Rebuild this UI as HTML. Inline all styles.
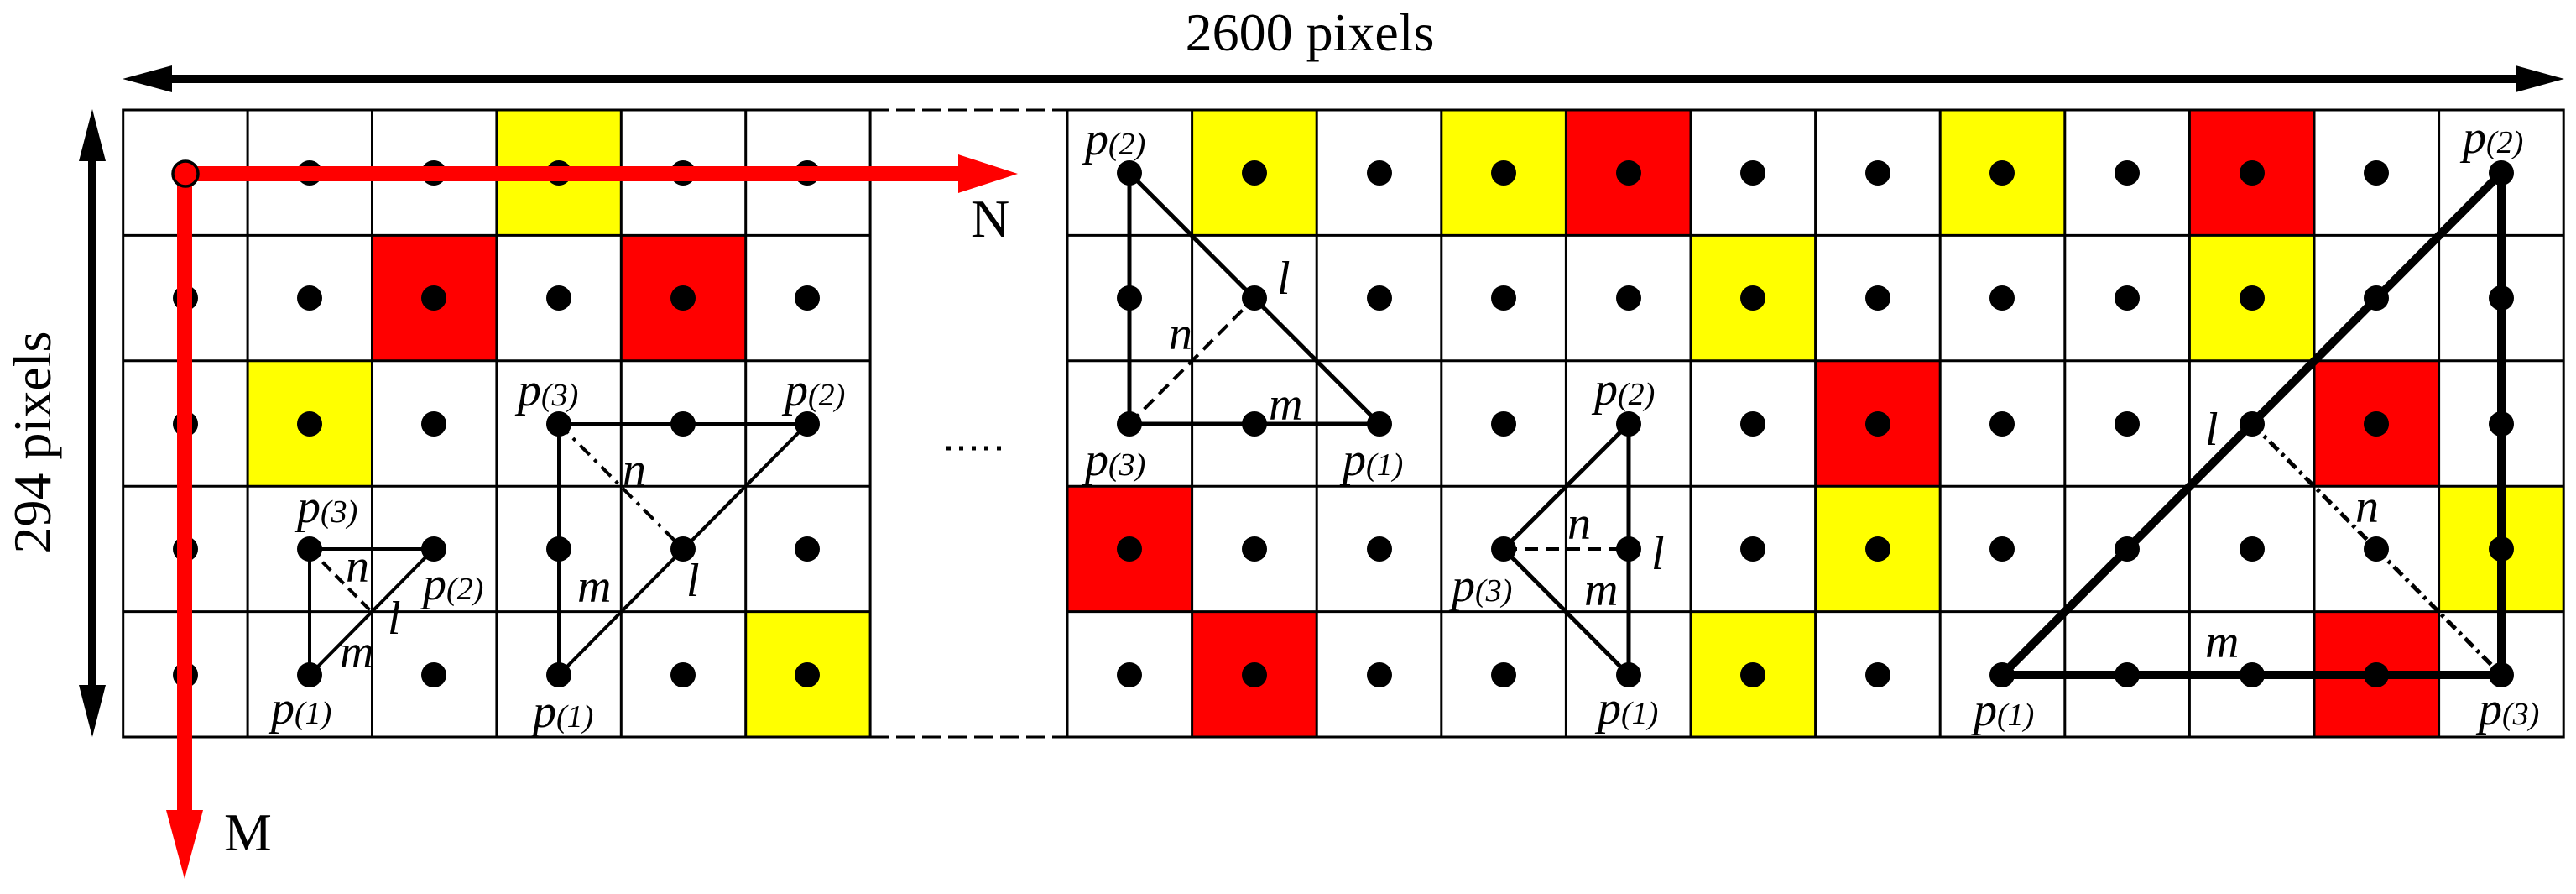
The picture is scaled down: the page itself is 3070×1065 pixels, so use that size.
<!DOCTYPE html>
<html><head><meta charset="utf-8"><style>html,body{margin:0;padding:0;background:#fff}svg{display:block}svg,svg text{font-family:"Liberation Serif","DejaVu Serif","Times New Roman",serif}</style></head>
<body>
<svg width="3070" height="1065" viewBox="0 0 3070 1065" xmlns="http://www.w3.org/2000/svg" style="font-family:'Liberation Serif','DejaVu Serif',serif">
<g>
<rect x="591.9" y="131" width="148.4" height="149.4" fill="#ffff00"/>
<rect x="443.5" y="280.4" width="148.4" height="149.4" fill="#ff0000"/>
<rect x="740.3" y="280.4" width="148.4" height="149.4" fill="#ff0000"/>
<rect x="295.1" y="429.8" width="148.4" height="149.4" fill="#ffff00"/>
<rect x="888.7" y="728.6" width="148.4" height="149.4" fill="#ffff00"/>
</g>
<g>
<rect x="1420.6" y="131" width="148.6" height="149.4" fill="#ffff00"/>
<rect x="1717.8" y="131" width="148.6" height="149.4" fill="#ffff00"/>
<rect x="1866.4" y="131" width="148.6" height="149.4" fill="#ff0000"/>
<rect x="2312.2" y="131" width="148.6" height="149.4" fill="#ffff00"/>
<rect x="2609.4" y="131" width="148.6" height="149.4" fill="#ff0000"/>
<rect x="2015" y="280.4" width="148.6" height="149.4" fill="#ffff00"/>
<rect x="2609.4" y="280.4" width="148.6" height="149.4" fill="#ffff00"/>
<rect x="2163.6" y="429.8" width="148.6" height="149.4" fill="#ff0000"/>
<rect x="2758" y="429.8" width="148.6" height="149.4" fill="#ff0000"/>
<rect x="1272" y="579.2" width="148.6" height="149.4" fill="#ff0000"/>
<rect x="2163.6" y="579.2" width="148.6" height="149.4" fill="#ffff00"/>
<rect x="2906.6" y="579.2" width="148.6" height="149.4" fill="#ffff00"/>
<rect x="1420.6" y="728.6" width="148.6" height="149.4" fill="#ff0000"/>
<rect x="2015" y="728.6" width="148.6" height="149.4" fill="#ffff00"/>
<rect x="2758" y="728.6" width="148.6" height="149.4" fill="#ff0000"/>
</g>
<g stroke="#000" stroke-width="3" fill="none">
<rect x="146.7" y="131" width="890.4" height="747"/>
<rect x="1272" y="131" width="1783.2" height="747"/>
<path d="M295.1 131V878M443.5 131V878M591.9 131V878M740.3 131V878M888.7 131V878"/>
<path d="M1420.6 131V878M1569.2 131V878M1717.8 131V878M1866.4 131V878M2015 131V878M2163.6 131V878M2312.2 131V878M2460.8 131V878M2609.4 131V878M2758 131V878M2906.6 131V878"/>
<path d="M146.7 280.4H1037.1M146.7 429.8H1037.1M146.7 579.2H1037.1M146.7 728.6H1037.1"/>
<path d="M1272 280.4H3055.2M1272 429.8H3055.2M1272 579.2H3055.2M1272 728.6H3055.2"/>
<path d="M1037 131H1272M1037 878H1272" stroke-dasharray="22,9"/>
</g>
<g fill="#000">
<circle cx="369" cy="206" r="15"/><circle cx="517" cy="206" r="15"/><circle cx="666" cy="206" r="15"/><circle cx="814" cy="206" r="15"/><circle cx="962" cy="206" r="15"/>
<circle cx="221" cy="355" r="15"/><circle cx="369" cy="355" r="15"/><circle cx="517" cy="355" r="15"/><circle cx="666" cy="355" r="15"/><circle cx="814" cy="355" r="15"/><circle cx="962" cy="355" r="15"/>
<circle cx="221" cy="505" r="15"/><circle cx="369" cy="505" r="15"/><circle cx="517" cy="505" r="15"/><circle cx="666" cy="505" r="15"/><circle cx="814" cy="505" r="15"/><circle cx="962" cy="505" r="15"/>
<circle cx="221" cy="654" r="15"/><circle cx="369" cy="654" r="15"/><circle cx="517" cy="654" r="15"/><circle cx="666" cy="654" r="15"/><circle cx="814" cy="654" r="15"/><circle cx="962" cy="654" r="15"/>
<circle cx="221" cy="804" r="15"/><circle cx="369" cy="804" r="15"/><circle cx="517" cy="804" r="15"/><circle cx="666" cy="804" r="15"/><circle cx="814" cy="804" r="15"/><circle cx="962" cy="804" r="15"/>
</g>
<g fill="#000">
<g><circle cx="1346" cy="206" r="15"/><circle cx="1495" cy="206" r="15"/><circle cx="1644" cy="206" r="15"/><circle cx="1792" cy="206" r="15"/><circle cx="1941" cy="206" r="15"/><circle cx="2089" cy="206" r="15"/><circle cx="2238" cy="206" r="15"/><circle cx="2386" cy="206" r="15"/><circle cx="2535" cy="206" r="15"/><circle cx="2684" cy="206" r="15"/><circle cx="2832" cy="206" r="15"/><circle cx="2981" cy="206" r="15"/></g>
<g transform="translate(0,149)"><circle cx="1346" cy="206" r="15"/><circle cx="1495" cy="206" r="15"/><circle cx="1644" cy="206" r="15"/><circle cx="1792" cy="206" r="15"/><circle cx="1941" cy="206" r="15"/><circle cx="2089" cy="206" r="15"/><circle cx="2238" cy="206" r="15"/><circle cx="2386" cy="206" r="15"/><circle cx="2535" cy="206" r="15"/><circle cx="2684" cy="206" r="15"/><circle cx="2832" cy="206" r="15"/><circle cx="2981" cy="206" r="15"/></g>
<g transform="translate(0,299)"><circle cx="1346" cy="206" r="15"/><circle cx="1495" cy="206" r="15"/><circle cx="1644" cy="206" r="15"/><circle cx="1792" cy="206" r="15"/><circle cx="1941" cy="206" r="15"/><circle cx="2089" cy="206" r="15"/><circle cx="2238" cy="206" r="15"/><circle cx="2386" cy="206" r="15"/><circle cx="2535" cy="206" r="15"/><circle cx="2684" cy="206" r="15"/><circle cx="2832" cy="206" r="15"/><circle cx="2981" cy="206" r="15"/></g>
<g transform="translate(0,448)"><circle cx="1346" cy="206" r="15"/><circle cx="1495" cy="206" r="15"/><circle cx="1644" cy="206" r="15"/><circle cx="1792" cy="206" r="15"/><circle cx="1941" cy="206" r="15"/><circle cx="2089" cy="206" r="15"/><circle cx="2238" cy="206" r="15"/><circle cx="2386" cy="206" r="15"/><circle cx="2535" cy="206" r="15"/><circle cx="2684" cy="206" r="15"/><circle cx="2832" cy="206" r="15"/><circle cx="2981" cy="206" r="15"/></g>
<g transform="translate(0,598)"><circle cx="1346" cy="206" r="15"/><circle cx="1495" cy="206" r="15"/><circle cx="1644" cy="206" r="15"/><circle cx="1792" cy="206" r="15"/><circle cx="1941" cy="206" r="15"/><circle cx="2089" cy="206" r="15"/><circle cx="2238" cy="206" r="15"/><circle cx="2386" cy="206" r="15"/><circle cx="2535" cy="206" r="15"/><circle cx="2684" cy="206" r="15"/><circle cx="2832" cy="206" r="15"/><circle cx="2981" cy="206" r="15"/></g>
</g>
<g stroke="#000" stroke-width="4" fill="none">
<path d="M369 654H517M369 654V804L517 654"/>
<path d="M369 654L443 729" stroke-dasharray="14,8"/>
<path d="M666 505H962M666 505V804L962 505"/>
<path d="M666 505L814 654" stroke-dasharray="16,8,4,8"/>
<path d="M1346 206V505H1644L1346 206" stroke-width="5"/>
<path d="M1346 505L1495 355" stroke-dasharray="16,9"/>
<path d="M1941 505V804L1792 654L1941 505" stroke-width="5"/>
<path d="M1792 654H1941" stroke-dasharray="16,9"/>
<path d="M2386 804H2981V206L2386 804" stroke-width="10"/>
<path d="M2684 505L2981 804" stroke-width="5" stroke-dasharray="14,6,4,6"/>
</g>
<g fill="#ff0000">
<rect x="221" y="198" width="922" height="18"/>
<polygon points="1142,184 1213,207 1142,230"/>
<rect x="211" y="207" width="18" height="760"/>
<polygon points="198,965 220,1047 242,965"/>
<circle cx="221" cy="207" r="15" stroke="#000" stroke-width="3.5"/>
</g>
<g fill="#000">
<rect x="200" y="89" width="2800" height="10"/>
<polygon points="146,94 205,78 205,110"/>
<polygon points="3056,94 2998,78 2998,110"/>
<rect x="105" y="185" width="10" height="640"/>
<polygon points="110,130 94,192 126,192"/>
<polygon points="110,878 94,816 126,816"/>
</g>
<path d="M1128 534H1202" stroke="#000" stroke-width="5" stroke-dasharray="5,10"/>
<g font-size="64" fill="#000">
<text x="1561" y="60" text-anchor="middle">2600 pixels</text>
<text transform="translate(60,527) rotate(-90)" text-anchor="middle">294 pixels</text>
<text x="1157" y="282">N</text>
<text x="267" y="1013">M</text>
</g>
<g font-size="56" font-style="italic" fill="#000">
<text x="354" y="622">p<tspan font-size="38">(3)</tspan></text>
<text x="504" y="714">p<tspan font-size="38">(2)</tspan></text>
<text x="323" y="862">p<tspan font-size="38">(1)</tspan></text>
<text x="412" y="693">n</text>
<text x="462" y="755">l</text>
<text x="405" y="795">m</text>
<text x="617" y="483">p<tspan font-size="38">(3)</tspan></text>
<text x="935" y="483">p<tspan font-size="38">(2)</tspan></text>
<text x="635" y="866">p<tspan font-size="38">(1)</tspan></text>
<text x="742" y="578">n</text>
<text x="818" y="710">l</text>
<text x="688" y="717">m</text>
<text x="1293" y="184">p<tspan font-size="38">(2)</tspan></text>
<text x="1293" y="566">p<tspan font-size="38">(3)</tspan></text>
<text x="1600" y="566">p<tspan font-size="38">(1)</tspan></text>
<text x="1522" y="350">l</text>
<text x="1393" y="416">n</text>
<text x="1512" y="500">m</text>
<text x="1900" y="482">p<tspan font-size="38">(2)</tspan></text>
<text x="1730" y="716">p<tspan font-size="38">(3)</tspan></text>
<text x="1904" y="862">p<tspan font-size="38">(1)</tspan></text>
<text x="1868" y="642">n</text>
<text x="1968" y="678">l</text>
<text x="1888" y="721">m</text>
<text x="2935" y="182">p<tspan font-size="38">(2)</tspan></text>
<text x="2352" y="864">p<tspan font-size="38">(1)</tspan></text>
<text x="2954" y="863">p<tspan font-size="38">(3)</tspan></text>
<text x="2628" y="530">l</text>
<text x="2807" y="622">n</text>
<text x="2628" y="783">m</text>
</g>
</svg>
</body></html>
